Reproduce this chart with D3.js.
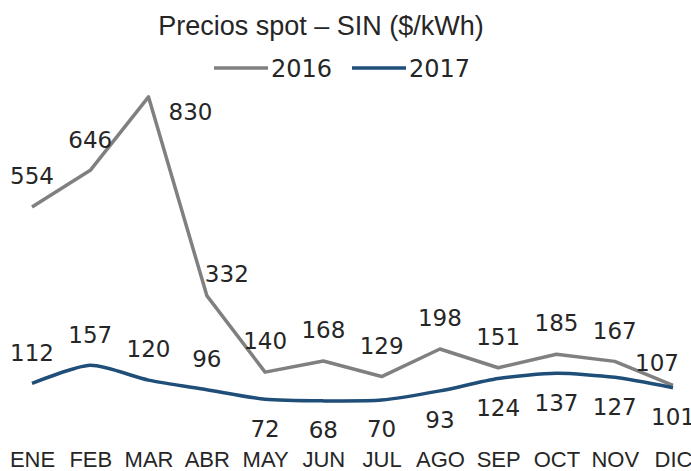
<!DOCTYPE html>
<html>
<head>
<meta charset="utf-8">
<script src="https://cdn.jsdelivr.net/npm/d3@7"></script>
<style>
    body { margin: 0; background: #fff; }
    svg text { fill: #262626; }
</style>
</head>
<body>
<div id="chart"></div>
<script>

var months = ["ENE", "FEB", "MAR", "ABR", "MAY", "JUN", "JUL", "AGO", "SEP", "OCT", "NOV", "DIC"];
var series2016 = [554, 646, 830, 332, 140, 168, 129, 198, 151, 185, 167, 107];
var series2017 = [112, 157, 120, 96, 72, 68, 70, 93, 124, 137, 127, 101];
// where excel put the 2016 labels
var place2016 = ["above", "above", "right", "right", "above", "above", "above", "above", "above", "above", "above", "left"];

var w = 691, h = 471;

var svg = d3.select("#chart")
    .append("svg")
    .attr("width", w)
    .attr("height", h);

var x = d3.scalePoint()
    .domain(months)
    .range([32, 673]);

var y = d3.scaleLinear()
    .domain([0, 900])
    .range([428, 69]);

var xAxis = d3.axisBottom(x)
    .tickSize(0)
    .tickPadding(0);

svg.append("g")
    .attr("class", "axis axis--x")
    .attr("transform", "translate(0,452)")
    .call(xAxis)
    .call(g => g.select(".domain").remove())
    .selectAll("text")
    .attr("dy", "0.68em")
    .style("font-family", "'Liberation Sans', Arial, sans-serif")
    .style("font-size", "22px")
    .style("fill", "#262626");

var line_gen = d3.line()
    .x((d, i) => x(months[i]))
    .y(d => y(d));

svg.append("path")
    .attr("class", "line s2016")
    .attr("d", line_gen.curve(d3.curveLinear)(series2016))
    .attr("fill", "none")
    .attr("stroke", "#808080")
    .attr("stroke-width", 3.5)
    .attr("stroke-linejoin", "round");

svg.append("path")
    .attr("class", "line s2017")
    .attr("d", line_gen.curve(d3.curveCardinal.tension(0.3))(series2017))
    .attr("fill", "none")
    .attr("stroke", "#1f4e79")
    .attr("stroke-width", 3.5)
    .attr("stroke-linejoin", "round");

var labelFont = "'DejaVu Sans', Verdana, sans-serif";

// 2016 labels
svg.append("g")
    .selectAll("text")
    .data(series2016)
    .enter()
    .append("text")
    .attr("x", (d, i) => {
        var p = place2016[i];
        return x(months[i]) + (p == "right" ? (i == 2 ? 42 : 20) : p == "left" ? -16 : 0);
    })
    .attr("y", (d, i) => {
        var p = place2016[i];
        return y(d) + (p == "right" ? (i == 2 ? 15 : -22) : p == "left" ? -23 : -31);
    })
    .attr("dy", "0.36em")
    .attr("text-anchor", "middle")
    .style("font-family", labelFont)
    .style("font-size", "23px")
    .text(d => d);

// 2017 labels, under the line where the 2016 line sits close above
svg.append("g")
    .selectAll("text")
    .data(series2017)
    .enter()
    .append("text")
    .attr("x", (d, i) => x(months[i]))
    .attr("y", (d, i) => y(d) + (series2016[i] - d < 150 ? 29 : -31))
    .attr("dy", "0.36em")
    .attr("text-anchor", "middle")
    .style("font-family", labelFont)
    .style("font-size", "23px")
    .text(d => d);

// title
svg.append("text")
    .attr("x", 321)
    .attr("y", 25)
    .attr("dy", "0.36em")
    .attr("text-anchor", "middle")
    .style("font-family", "'Liberation Sans', Arial, sans-serif")
    .style("font-size", "27px")
    .text("Precios spot \u2013 SIN ($/kWh)");

// legend
var legend = [
    {name: "2016", color: "#808080", x: 214},
    {name: "2017", color: "#1f4e79", x: 352}
];

var lg = svg.append("g")
    .selectAll("g")
    .data(legend)
    .enter()
    .append("g")
    .attr("transform", d => "translate(" + d.x + ",68)");

lg.append("line")
    .attr("x1", 0)
    .attr("x2", 54)
    .attr("stroke", d => d.color)
    .attr("stroke-width", 3.5);

lg.append("text")
    .attr("x", 57)
    .attr("dy", "0.36em")
    .style("font-family", labelFont)
    .style("font-size", "24px")
    .text(d => d.name);

</script>
</body>
</html>
